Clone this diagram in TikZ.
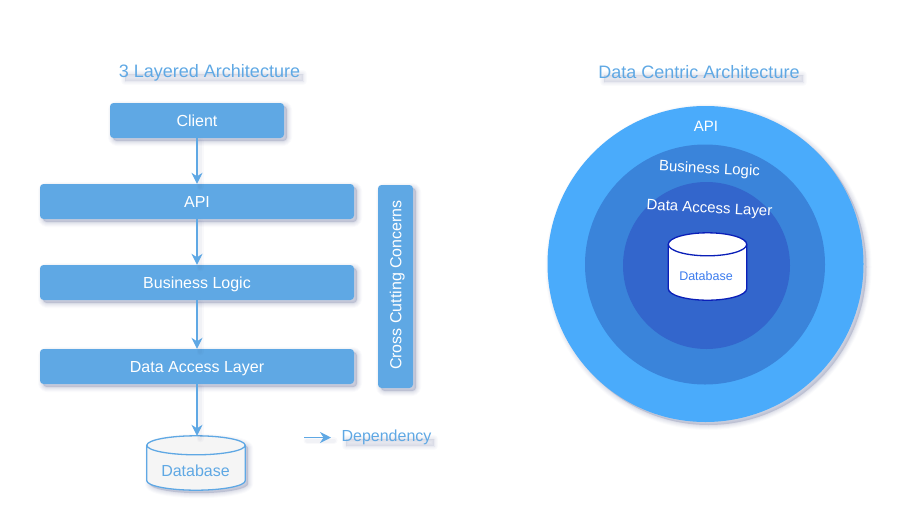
\documentclass[tikz,border=0pt]{standalone}
\usepackage{fontspec}
\setmainfont{Liberation Sans}
\usetikzlibrary{shadows,arrows.meta,calc}
\definecolor{boxblue}{HTML}{5FA8E4}
\definecolor{shadowc}{HTML}{3F4A80}
\definecolor{ringa}{HTML}{4AABFB}
\definecolor{ringb}{HTML}{3A84DA}
\definecolor{ringc}{HTML}{3366CC}
\definecolor{dbline}{HTML}{0A1FB8}
\definecolor{dbtext}{HTML}{3C7CEE}
\definecolor{dbfill}{HTML}{F5F5F5}
\tikzset{
  softshadow/.style={
    general shadow={draw=shadowc,fill=shadowc,line width=10pt,line join=round,opacity=.025,shadow xshift=3pt,shadow yshift=-3pt},
    general shadow={draw=shadowc,fill=shadowc,line width=8pt,line join=round,opacity=.03,shadow xshift=3pt,shadow yshift=-3pt},
    general shadow={draw=shadowc,fill=shadowc,line width=6pt,line join=round,opacity=.035,shadow xshift=3pt,shadow yshift=-3pt},
    general shadow={draw=shadowc,fill=shadowc,line width=4pt,line join=round,opacity=.04,shadow xshift=3pt,shadow yshift=-3pt},
    general shadow={draw=shadowc,fill=shadowc,line width=2pt,line join=round,opacity=.05,shadow xshift=3pt,shadow yshift=-3pt},
    general shadow={fill=shadowc,opacity=.06,shadow xshift=3pt,shadow yshift=-3pt}},
  capstext/.style={text height=.72*#1,text depth=0pt,font=\fontsize{#1}{#1}\selectfont},
  layerbox/.style={rectangle,rounded corners=3.5pt,fill=boxblue,text=white,capstext=16pt,inner sep=0pt,softshadow},
  dep/.style={draw=boxblue,line width=1.2pt,-{Stealth[length=11pt,width=11pt,inset=3.5pt]},
    preaction={draw=shadowc,opacity=.03,line width=7pt,line cap=round,-,transform canvas={shift={(3pt,-3pt)}}},
    preaction={draw=shadowc,opacity=.04,line width=4pt,line cap=round,-,transform canvas={shift={(3pt,-3pt)}}}},
  titletext/.style={text=boxblue,capstext=18pt},
  bandshadow/.style={fill=shadowc,draw=shadowc,opacity=.022,line join=round},
  ringlabel/.style={text=white,capstext=15pt},
  dbanchor/.style={rectangle,inner sep=0pt},
  dbleft/.style={draw=boxblue,line width=1.3pt,fill=dbfill},
  dbright/.style={draw=dbline,line width=1.3pt,fill=white}
}
% #1 node, #2 ry, #3 kx, #4 ky, #5 line style, #6 body style
\newcommand\cylbody[6]{%
  \coordinate (#1-a) at ($(#1.north west)+(0,#2)$);
  \coordinate (#1-b) at ($(#1.north east)+(0,#2)$);
  \coordinate (#1-c) at ($(#1.south east)+(0,-#2)$);
  \coordinate (#1-d) at ($(#1.south west)+(0,-#2)$);
  \draw[#5,#6] (#1-a) .. controls +(0,-#4) and +(-#3,0) .. (#1.north)
     .. controls +(#3,0) and +(0,-#4) .. (#1-b) -- (#1-c)
     .. controls +(0,#4) and +(#3,0) .. (#1.south)
     .. controls +(-#3,0) and +(0,#4) .. (#1-d) -- cycle;
  \coordinate (#1-m) at ($(#1.north)+(0,2*#2)$);
  \draw[#5,fill=none] (#1-a) .. controls +(0,#4) and +(-#3,0) .. (#1-m)
     .. controls +(#3,0) and +(0,#4) .. (#1-b);
}
\begin{document}
\begin{tikzpicture}[x=1pt,y=-1pt]
\useasboundingbox (0,0) rectangle (902,528);
% soft bands under the coloured labels
\foreach \w in {0pt,2pt,4pt,6pt,8pt}{
  \draw[bandshadow,line width=\w] (125,74) rectangle (303,81);
  \draw[bandshadow,line width=\w] (604,75) rectangle (803,82);
  \draw[bandshadow,line width=\w] (346,439) rectangle (434,446);
}
% left stack
\node[titletext] (t1) at (209.5,71.5) {3 Layered Architecture};
\node[layerbox,minimum width=174pt,minimum height=35pt] (client) at (197,120.5) {Client};
\node[layerbox,minimum width=314pt,minimum height=35pt] (api) at (197,201.5) {API};
\node[layerbox,minimum width=314pt,minimum height=35pt] (bl) at (197,282.5) {Business Logic};
\node[layerbox,minimum width=314pt,minimum height=35pt] (dal) at (197,366.5) {Data Access Layer};
\node[layerbox,minimum width=35pt,minimum height=203pt] (cc) at (395.5,286.5) {};
\node[text=white,capstext=16pt,rotate=90,inner sep=0pt] (cct) at (395.5,285) {Cross Cutting Concerns};
\node[dbanchor,minimum width=98pt,minimum height=54pt] (db) at (196,463) {};
\cylbody{db}{9.5}{27}{5.2}{dbleft}{softshadow}
\node[text=boxblue,capstext=16pt] (dbl) at (195.5,470.5) {Database};
\draw[dep] (client) -- (api);
\draw[dep] (api) -- (bl);
\draw[dep] (bl) -- (dal);
\draw[dep] (dal.south) -- (dal.south |- db.north);
% legend
\coordinate (lega) at (304,437.5);
\coordinate (legb) at (331,437.5);
\draw[dep] (lega) -- (legb);
\node[text=boxblue,capstext=16pt] (legt) at (386.5,436) {Dependency};
% right
\node[titletext] (t2) at (699,72.5) {Data Centric Architecture};
\node[circle,fill=ringa,minimum size=316pt,inner sep=0pt,softshadow] (ra) at (705.5,264) {};
\node[circle,fill=ringb,minimum size=240pt,inner sep=0pt] (rb) at (705,264.5) {};
\node[circle,fill=ringc,minimum size=167pt,inner sep=0pt] (rc) at (706.5,265.5) {};
\node[ringlabel] (la) at (706,126) {API};
\node[ringlabel,rotate=-3] (lb) at (709.5,168) {Business Logic};
\node[ringlabel,rotate=-3] (lc) at (709.5,207.5) {Data Access Layer};
\node[dbanchor,minimum width=78pt,minimum height=67pt] (db2) at (707.5,266.5) {};
\cylbody{db2}{11.5}{21.5}{6.4}{dbright}{}
\node[text=dbtext,capstext=12.5pt] (db2l) at (706,275.5) {Database};
\end{tikzpicture}
\end{document}
